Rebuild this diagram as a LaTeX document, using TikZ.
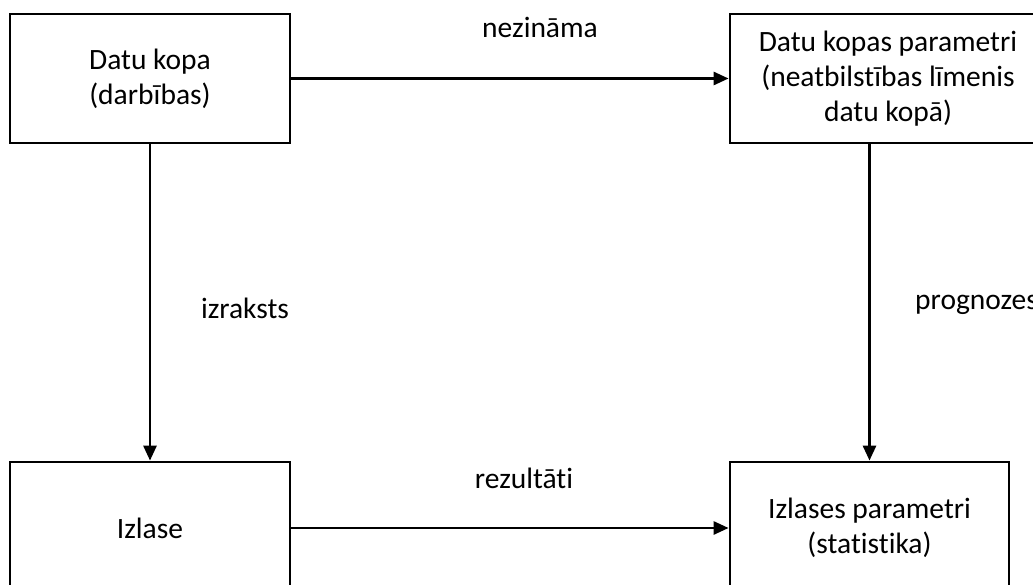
\documentclass[tikz,border=0pt]{standalone}
\usepackage{fontspec}
\setmainfont{Carlito}[Ligatures={NoCommon}]
\usetikzlibrary{arrows.meta}
\begin{document}
\begin{tikzpicture}[x=1pt,y=-1pt,
  box/.style={draw=black, line width=2.8pt, align=center, inner sep=0pt,
    font=\fontsize{29.5}{35}\selectfont},
  lbl/.style={anchor=base, inner sep=0pt, font=\fontsize{29.5}{35}\selectfont},
  conn/.style={line width=2.8pt, -{Triangle[length=15pt,width=13pt]}}]
  \clip (0,0) rectangle (1033,585);
  \fill[white] (0,0) rectangle (1033,585);

  % boxes
  \node[box, minimum width=280pt, minimum height=129pt] (dk) at (150,78.5)
    {Datu kopa\\(darbības)};
  \node[box, minimum width=316pt, minimum height=129pt] (dkp) at (888,78.5)
    {Datu kopas parametri\\(neatbilstības līmenis\\datu kopā)};
  \node[box, minimum width=280pt, minimum height=132pt] (iz) at (150,528)
    {Izlase};
  \node[box, minimum width=279pt, minimum height=132pt] (izp) at (869.5,528)
    {Izlases parametri\\(statistika)};

  % connectors
  \draw[conn] (dk.east) -- (dkp.west);
  \draw[conn] (dk.south) -- (iz.north);
  \draw[conn] (iz.east) -- (izp.west);
  \draw[conn] (dkp.south -| izp.north) -- (izp.north);

  % connector labels
  \node[lbl] (l1) at (540,38) {nezināma};
  \node[lbl] (l2) at (245,318) {izraksts};
  \node[lbl] (l3) at (524,488) {rezultāti};
  \node[lbl, anchor=base west] (l4) at (915,309) {prognozes};
\end{tikzpicture}
\end{document}
